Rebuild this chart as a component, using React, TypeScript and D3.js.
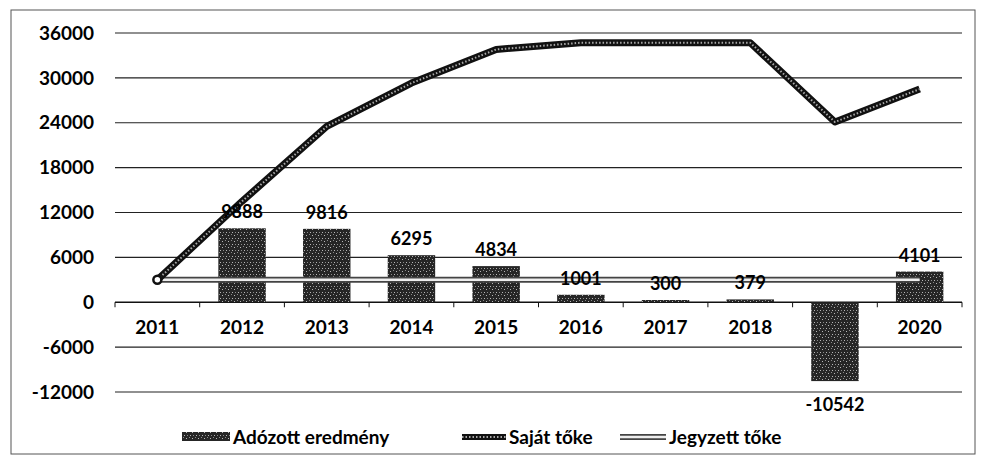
import React, { useEffect, useRef } from 'react';
import * as d3 from 'd3';

const years = ['2011', '2012', '2013', '2014', '2015', '2016', '2017', '2018', '2019', '2020'];
const adozottEredmeny = [null, 9888, 9816, 6295, 4834, 1001, 300, 379, -10542, 4101];
const sajatToke = [3000, 13500, 23500, 29300, 33800, 34700, 34700, 34700, 24100, 28500];
const jegyzettToke = [3000, 3000, 3000, 3000, 3000, 3000, 3000, 3000, 3000, 3000];
const yTicks = [-12000, -6000, 0, 6000, 12000, 18000, 24000, 30000, 36000];
const seriesNames = ['Adózott eredmény', 'Saját tőke', 'Jegyzett tőke'];

const W = 981;
const H = 468;
const font = 'Lato, "Noto Sans", sans-serif';

export default function App() {
  const ref = useRef<SVGSVGElement | null>(null);

  useEffect(() => {
    const svg = d3.select(ref.current);
    svg.selectAll('*').remove();

    const left = 115;
    const right = 962;
    const x = d3.scaleBand().domain(years).range([left, right]).paddingInner(0.44).paddingOuter(0.22);
    const band = d3.scaleBand().domain(years).range([left, right]);
    const y = d3.scaleLinear().domain([-12000, 36000]).range([392, 33]);
    const cx = (d: string) => band(d)! + band.bandwidth() / 2;

    // bar texture
    const defs = svg.append('defs');
    const pat = defs
      .append('pattern')
      .attr('id', 'speckle')
      .attr('width', 6)
      .attr('height', 6)
      .attr('patternUnits', 'userSpaceOnUse');
    pat.append('rect').attr('width', 6).attr('height', 6).attr('fill', '#262626');
    [[0, 1], [3, 0], [4, 4], [1, 4]].forEach(([a, b], i) =>
      pat
        .append('rect')
        .attr('x', a)
        .attr('y', b)
        .attr('width', 1)
        .attr('height', 1)
        .attr('fill', i % 2 ? '#8a8a8a' : '#b8b8b8'),
    );

    // frame
    svg
      .append('rect')
      .attr('x', 11)
      .attr('y', 10)
      .attr('width', 964)
      .attr('height', 444)
      .attr('fill', 'none')
      .attr('stroke', '#555')
      .attr('stroke-width', 1);

    // grid
    svg
      .append('g')
      .selectAll('line')
      .data(yTicks.filter(t => t !== 0))
      .enter()
      .append('line')
      .attr('x1', left)
      .attr('x2', right)
      .attr('y1', d => y(d))
      .attr('y2', d => y(d))
      .attr('stroke', '#222')
      .attr('stroke-width', 1.2);

    // y labels
    svg
      .append('g')
      .selectAll('text')
      .data(yTicks)
      .enter()
      .append('text')
      .attr('x', 94)
      .attr('y', d => y(d))
      .attr('dy', '0.35em')
      .attr('text-anchor', 'end')
      .style('font-family', font)
      .style('font-size', '19px')
      .style('font-weight', 'bold')
      .text(d => d);

    // zero axis with ticks
    const axis = svg.append('g');
    axis
      .append('line')
      .attr('x1', left)
      .attr('x2', right)
      .attr('y1', y(0))
      .attr('y2', y(0))
      .attr('stroke', '#111')
      .attr('stroke-width', 1.5);
    axis
      .selectAll('.tk')
      .data([...years.map(d => band(d)!), right])
      .enter()
      .append('line')
      .attr('x1', d => d)
      .attr('x2', d => d)
      .attr('y1', y(0))
      .attr('y2', y(0) + 5)
      .attr('stroke', '#111');

    // category labels
    svg
      .append('g')
      .selectAll('text')
      .data(years)
      .enter()
      .append('text')
      .attr('x', d => cx(d))
      .attr('y', y(0) + 32)
      .attr('text-anchor', 'middle')
      .style('font-family', font)
      .style('font-size', '19px')
      .style('font-weight', 'bold')
      .text(d => d);

    // bars
    const barData = years
      .map((d, i) => ({ year: d, v: adozottEredmeny[i] }))
      .filter(d => d.v !== null) as { year: string; v: number }[];
    svg
      .append('g')
      .selectAll('rect')
      .data(barData)
      .enter()
      .append('rect')
      .attr('x', d => x(d.year)!)
      .attr('width', x.bandwidth())
      .attr('y', d => y(Math.max(0, d.v)))
      .attr('height', d => Math.abs(y(d.v) - y(0)))
      .attr('fill', 'url(#speckle)');

    // lines
    const line = d3
      .line<number>()
      .x((d, i) => cx(years[i]))
      .y(d => y(d));

    svg
      .append('path')
      .attr('d', line(jegyzettToke))
      .attr('fill', 'none')
      .attr('stroke', '#444')
      .attr('stroke-width', 6);
    svg
      .append('path')
      .attr('d', line(jegyzettToke))
      .attr('fill', 'none')
      .attr('stroke', '#eee')
      .attr('stroke-width', 2.5);

    svg
      .append('path')
      .attr('d', line(sajatToke))
      .attr('fill', 'none')
      .attr('stroke', '#111')
      .attr('stroke-width', 7)
      .attr('stroke-linejoin', 'round');
    svg
      .append('path')
      .attr('d', line(sajatToke))
      .attr('fill', 'none')
      .attr('stroke', '#aaa')
      .attr('stroke-width', 2)
      .attr('stroke-dasharray', '1.5 2')
      .attr('stroke-linejoin', 'round');
    svg
      .append('circle')
      .attr('cx', cx(years[0]))
      .attr('cy', y(sajatToke[0]))
      .attr('r', 4)
      .attr('fill', '#fff')
      .attr('stroke', '#111')
      .attr('stroke-width', 2.5);

    // data labels
    svg
      .append('g')
      .selectAll('text')
      .data(barData)
      .enter()
      .append('text')
      .attr('x', d => cx(d.year))
      .attr('y', d => (d.v >= 0 ? y(d.v) - 10 : y(d.v) + 30))
      .attr('text-anchor', 'middle')
      .style('font-family', font)
      .style('font-size', '18px')
      .style('font-weight', 'bold')
      .text(d => d.v);

    // legend
    const lg = svg.append('g').attr('transform', 'translate(0,437)');
    const items = [
      { x: 182, w: 48 },
      { x: 462, w: 44 },
      { x: 620, w: 46 },
    ];
    lg.append('rect')
      .attr('x', items[0].x)
      .attr('y', -5)
      .attr('width', items[0].w)
      .attr('height', 9)
      .attr('fill', 'url(#speckle)');
    lg.append('line')
      .attr('x1', items[1].x)
      .attr('x2', items[1].x + items[1].w)
      .attr('stroke', '#111')
      .attr('stroke-width', 6);
    lg.append('line')
      .attr('x1', items[1].x)
      .attr('x2', items[1].x + items[1].w)
      .attr('stroke', '#aaa')
      .attr('stroke-width', 2)
      .attr('stroke-dasharray', '1.5 2');
    lg.append('line')
      .attr('x1', items[2].x)
      .attr('x2', items[2].x + items[2].w)
      .attr('stroke', '#444')
      .attr('stroke-width', 6);
    lg.append('line')
      .attr('x1', items[2].x)
      .attr('x2', items[2].x + items[2].w)
      .attr('stroke', '#eee')
      .attr('stroke-width', 2.5);
    lg.selectAll('text')
      .data(seriesNames)
      .enter()
      .append('text')
      .attr('x', (d, i) => items[i].x + items[i].w + 3)
      .attr('dy', '0.35em')
      .style('font-family', font)
      .style('font-size', '19px')
      .style('font-weight', 'bold')
      .text(d => d);
  }, []);

  return <svg ref={ref} width={W} height={H} style={{ display: 'block', position: 'absolute', left: 0, top: 0, background: '#fff' }} />;
}
